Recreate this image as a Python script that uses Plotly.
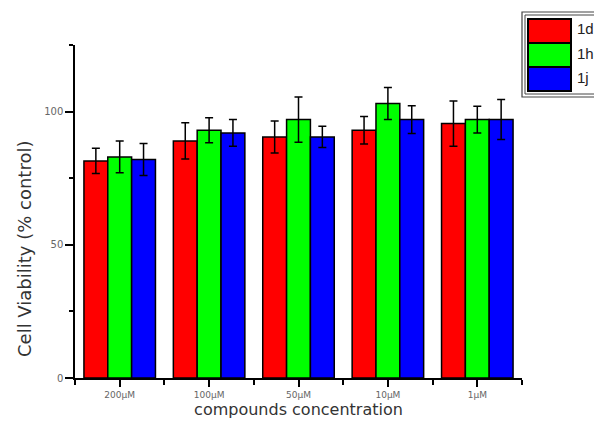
import plotly.graph_objects as go

categories = ["200µM", "100µM", "50µM", "10µM", "1µM"]
series_names = ["1d", "1h", "1j"]
vals_1d = [81.5, 89.0, 90.5, 93.0, 95.5]
err_1d = [4.7, 6.8, 6.0, 5.2, 8.5]
vals_1h = [83.0, 93.0, 97.0, 103.0, 97.0]
err_1h = [6.0, 4.7, 8.5, 6.0, 5.0]
vals_1j = [82.0, 92.0, 90.5, 97.0, 97.0]
err_1j = [6.0, 5.0, 4.0, 5.2, 7.5]
colors = ["#FF0000", "#00FF00", "#0000FF"]

# page body has an 8px margin; figure coordinates are offset accordingly
OFF = 8
W, H = 602 - OFF, 428 - OFF
PL, PR, PT, PB = 75, 522, 45, 378  # plot area in window pixels
L, R, T, B = PL - OFF, W - (PR - OFF), PT - OFF, H - (PB - OFF)
PW, PH = W - L - R, H - T - B

def px2paper(x, y):
    return (x - OFF - L) / PW, (H - B - (y - OFF)) / PH

xpos = list(range(len(categories)))
fig = go.Figure()
for name, vals, errs, col in zip(series_names, [vals_1d, vals_1h, vals_1j],
                                 [err_1d, err_1h, err_1j], colors):
    fig.add_trace(go.Bar(
        x=xpos, y=vals, name=name,
        marker=dict(color=col, line=dict(color="black", width=1.5)),
        error_y=dict(type="data", array=errs, visible=True, color="black",
                     thickness=1.5, width=4),
        showlegend=False,
    ))

font_fam = "DejaVu Sans, Arial, sans-serif"
fig.update_layout(
    width=W, height=H,
    margin=dict(l=L, r=R, t=T, b=B),
    paper_bgcolor="white", plot_bgcolor="white",
    barmode="group", bargap=0.2, bargroupgap=0,
    font=dict(family=font_fam, color="#333"),
    xaxis=dict(
        range=[-0.5, len(categories) - 0.5],
        tickvals=xpos, ticktext=categories,
        ticks="outside", ticklen=7, tickwidth=1.5, tickcolor="black",
        showline=True, linecolor="black", linewidth=1.5,
        showgrid=False, zeroline=False,
        tickfont=dict(size=9, color="#666"),
        minor=dict(tickvals=[i - 0.5 for i in range(len(categories) + 1)],
                   ticks="outside", ticklen=5, tickwidth=1.5, tickcolor="black",
                   showgrid=False),
        title=dict(text="compounds concentration", font=dict(size=16, color="#333"),
                   standoff=5),
    ),
    yaxis=dict(
        range=[0, 125],
        tickvals=[0, 50, 100],
        ticks="outside", ticklen=8, tickwidth=1.5, tickcolor="black",
        showline=True, linecolor="black", linewidth=1.5,
        showgrid=False, zeroline=False,
        tickfont=dict(size=10, color="#666"),
        minor=dict(tickvals=[25, 75, 125], ticks="outside", ticklen=4,
                   tickwidth=1.5, tickcolor="black", showgrid=False),
    ),
)

# y-axis title placed as in the reference (centred slightly below plot middle)
ytx, yty = px2paper(24, 249)
fig.add_annotation(xref="paper", yref="paper", x=ytx, y=yty,
                   text="Cell Viability (% control)", textangle=-90,
                   showarrow=False, xanchor="center", yanchor="middle",
                   font=dict(size=18, color="#333", family=font_fam))

# Legend drawn as a framed box with large colour patches
bx0, by0 = px2paper(522, 97)
bx1, by1 = px2paper(606, 12)
fig.add_shape(type="rect", xref="paper", yref="paper", x0=bx0, y0=by0, x1=bx1, y1=by1,
              line=dict(color="#444", width=1.2), fillcolor="white")
ix0, iy0 = px2paper(525, 94)
ix1, iy1 = px2paper(606, 15)
fig.add_shape(type="rect", xref="paper", yref="paper", x0=ix0, y0=iy0, x1=ix1, y1=iy1,
              line=dict(color="#444", width=1), fillcolor="white")
patch_top = 19
patch_h = 24
for i, (name, col) in enumerate(zip(series_names, colors)):
    top = patch_top + i * patch_h
    x0, y0 = px2paper(528, top + patch_h)
    x1, y1 = px2paper(571, top)
    fig.add_shape(type="rect", xref="paper", yref="paper", x0=x0, y0=y0, x1=x1, y1=y1,
                  line=dict(color="black", width=2), fillcolor=col)
    tx, ty = px2paper(575, top + patch_h / 2 - 2)
    fig.add_annotation(xref="paper", yref="paper", x=tx, y=ty, text=name,
                       showarrow=False, xanchor="left", yanchor="middle",
                       font=dict(size=15, color="#222", family="Liberation Sans, Arial"))

fig.write_html("out.html")
